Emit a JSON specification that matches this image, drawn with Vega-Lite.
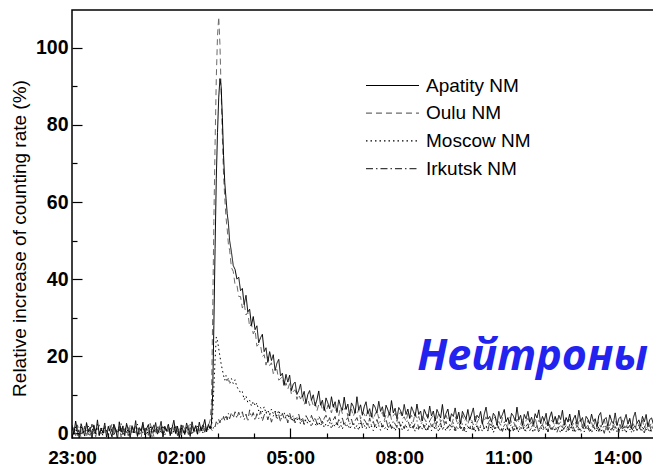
{
  "$schema": "https://vega.github.io/schema/vega-lite/v6.json",
  "width": 582,
  "height": 428,
  "autosize": {"type": "none"},
  "padding": {"left": 72, "top": 10, "right": 0, "bottom": 29},
  "background": "white",
  "config": {
    "view": {"stroke": "black", "strokeWidth": 1.5},
    "axis": {"grid": false, "domain": false, "tickColor": "black", "tickWidth": 1.2, "labelColor": "black", "titleColor": "black", "labelFont": "Liberation Sans", "titleFont": "Liberation Sans"}
  },
  "resolve": {"scale": {"x": "shared", "y": "shared"}, "axis": {"x": "independent", "y": "independent"}},
  "layer": [
    {
      "data": {"values": [
{"t":0,"Apatity":2.1,"Oulu":0.2,"Moscow":1.0,"Irkutsk":-0.3},
{"t":3,"Apatity":-0.3,"Oulu":1.5,"Moscow":0.1,"Irkutsk":1.6},
{"t":6,"Apatity":3.2,"Oulu":-0.6,"Moscow":1.7,"Irkutsk":0.4},
{"t":9,"Apatity":0.6,"Oulu":2.0,"Moscow":-0.5,"Irkutsk":2.2},
{"t":12,"Apatity":-1.2,"Oulu":0.8,"Moscow":0.9,"Irkutsk":-0.4},
{"t":15,"Apatity":2.5,"Oulu":-1.1,"Moscow":2.1,"Irkutsk":1.0},
{"t":18,"Apatity":0.9,"Oulu":1.7,"Moscow":-0.2,"Irkutsk":0.1},
{"t":21,"Apatity":-0.7,"Oulu":0.3,"Moscow":1.3,"Irkutsk":1.9},
{"t":24,"Apatity":2.8,"Oulu":2.4,"Moscow":0.4,"Irkutsk":-0.8},
{"t":27,"Apatity":0.4,"Oulu":-0.4,"Moscow":1.9,"Irkutsk":1.3},
{"t":30,"Apatity":1.6,"Oulu":1.2,"Moscow":-0.8,"Irkutsk":0.5},
{"t":33,"Apatity":-1.4,"Oulu":0.0,"Moscow":0.7,"Irkutsk":2.4},
{"t":36,"Apatity":2.2,"Oulu":1.9,"Moscow":1.5,"Irkutsk":-0.2},
{"t":39,"Apatity":0.0,"Oulu":-0.9,"Moscow":-0.1,"Irkutsk":0.9},
{"t":42,"Apatity":3.5,"Oulu":1.0,"Moscow":2.3,"Irkutsk":1.7},
{"t":45,"Apatity":-0.5,"Oulu":2.2,"Moscow":0.2,"Irkutsk":-0.6},
{"t":48,"Apatity":1.4,"Oulu":-0.2,"Moscow":1.1,"Irkutsk":1.4},
{"t":51,"Apatity":0.2,"Oulu":1.4,"Moscow":-0.6,"Irkutsk":0.0},
{"t":54,"Apatity":2.7,"Oulu":0.5,"Moscow":1.6,"Irkutsk":2.0},
{"t":57,"Apatity":-1.0,"Oulu":-1.3,"Moscow":0.5,"Irkutsk":0.7},
{"t":60,"Apatity":1.8,"Oulu":1.8,"Moscow":-0.3,"Irkutsk":-0.5},
{"t":63,"Apatity":0.5,"Oulu":0.6,"Moscow":2.0,"Irkutsk":1.8},
{"t":66,"Apatity":-0.9,"Oulu":2.5,"Moscow":0.8,"Irkutsk":0.3},
{"t":69,"Apatity":2.4,"Oulu":-0.5,"Moscow":-0.7,"Irkutsk":2.3},
{"t":72,"Apatity":1.1,"Oulu":1.1,"Moscow":1.4,"Irkutsk":-0.1},
{"t":75,"Apatity":-1.5,"Oulu":0.2,"Moscow":0.0,"Irkutsk":1.1},
{"t":78,"Apatity":3.0,"Oulu":1.6,"Moscow":1.8,"Irkutsk":0.6},
{"t":81,"Apatity":0.3,"Oulu":-1.0,"Moscow":-0.4,"Irkutsk":2.6},
{"t":84,"Apatity":1.9,"Oulu":2.1,"Moscow":1.0,"Irkutsk":-0.7},
{"t":87,"Apatity":-0.6,"Oulu":0.4,"Moscow":0.3,"Irkutsk":1.2},
{"t":90,"Apatity":2.6,"Oulu":1.3,"Moscow":2.2,"Irkutsk":0.2},
{"t":93,"Apatity":0.8,"Oulu":-0.7,"Moscow":-0.5,"Irkutsk":1.9},
{"t":96,"Apatity":-1.1,"Oulu":2.3,"Moscow":0.9,"Irkutsk":-0.3},
{"t":99,"Apatity":2.0,"Oulu":0.1,"Moscow":1.5,"Irkutsk":1.5},
{"t":102,"Apatity":0.1,"Oulu":1.5,"Moscow":-0.2,"Irkutsk":0.8},
{"t":105,"Apatity":3.3,"Oulu":-0.4,"Moscow":0.6,"Irkutsk":2.1},
{"t":108,"Apatity":-0.8,"Oulu":1.9,"Moscow":2.4,"Irkutsk":-0.6},
{"t":111,"Apatity":1.5,"Oulu":0.7,"Moscow":-0.6,"Irkutsk":1.0},
{"t":114,"Apatity":0.6,"Oulu":-1.2,"Moscow":1.2,"Irkutsk":0.1},
{"t":117,"Apatity":2.9,"Oulu":2.0,"Moscow":0.1,"Irkutsk":2.5},
{"t":120,"Apatity":-0.4,"Oulu":0.3,"Moscow":1.7,"Irkutsk":0.4},
{"t":123,"Apatity":1.2,"Oulu":1.4,"Moscow":-0.4,"Irkutsk":1.6},
{"t":126,"Apatity":2.3,"Oulu":-0.3,"Moscow":0.8,"Irkutsk":-0.5},
{"t":129,"Apatity":-1.3,"Oulu":2.6,"Moscow":2.0,"Irkutsk":1.3},
{"t":132,"Apatity":1.7,"Oulu":0.9,"Moscow":-0.8,"Irkutsk":0.6},
{"t":135,"Apatity":0.4,"Oulu":-0.8,"Moscow":1.0,"Irkutsk":2.2},
{"t":138,"Apatity":2.8,"Oulu":1.2,"Moscow":0.4,"Irkutsk":-0.2},
{"t":141,"Apatity":-0.2,"Oulu":0.0,"Moscow":1.9,"Irkutsk":1.0},
{"t":144,"Apatity":1.0,"Oulu":2.2,"Moscow":-0.1,"Irkutsk":0.2},
{"t":147,"Apatity":3.1,"Oulu":0.6,"Moscow":0.7,"Irkutsk":1.8},
{"t":150,"Apatity":-0.9,"Oulu":-1.0,"Moscow":2.1,"Irkutsk":-0.4},
{"t":153,"Apatity":1.8,"Oulu":1.8,"Moscow":-0.5,"Irkutsk":1.4},
{"t":156,"Apatity":0.7,"Oulu":0.4,"Moscow":1.3,"Irkutsk":0.5},
{"t":159,"Apatity":2.4,"Oulu":1.3,"Moscow":0.2,"Irkutsk":2.3},
{"t":162,"Apatity":-0.6,"Oulu":-0.5,"Moscow":1.6,"Irkutsk":-0.1},
{"t":165,"Apatity":1.3,"Oulu":2.4,"Moscow":-0.3,"Irkutsk":1.2},
{"t":168,"Apatity":3.4,"Oulu":0.8,"Moscow":0.9,"Irkutsk":0.3},
{"t":171,"Apatity":0.0,"Oulu":-0.2,"Moscow":2.2,"Irkutsk":2.0},
{"t":174,"Apatity":1.9,"Oulu":1.7,"Moscow":0.3,"Irkutsk":-0.6},
{"t":177,"Apatity":-1.2,"Oulu":0.5,"Moscow":-0.6,"Irkutsk":1.5},
{"t":180,"Apatity":2.2,"Oulu":-0.9,"Moscow":1.4,"Irkutsk":0.7},
{"t":183,"Apatity":0.9,"Oulu":2.1,"Moscow":0.6,"Irkutsk":2.4},
{"t":186,"Apatity":-0.3,"Oulu":1.0,"Moscow":-0.2,"Irkutsk":0.0},
{"t":189,"Apatity":2.7,"Oulu":0.0,"Moscow":1.8,"Irkutsk":1.6},
{"t":192,"Apatity":1.1,"Oulu":2.5,"Moscow":0.5,"Irkutsk":-0.3},
{"t":195,"Apatity":-0.8,"Oulu":-0.4,"Moscow":2.3,"Irkutsk":1.1},
{"t":198,"Apatity":3.0,"Oulu":1.4,"Moscow":-0.4,"Irkutsk":2.2},
{"t":201,"Apatity":0.6,"Oulu":0.3,"Moscow":1.0,"Irkutsk":0.4},
{"t":204,"Apatity":2.0,"Oulu":2.2,"Moscow":0.2,"Irkutsk":1.9},
{"t":207,"Apatity":-0.2,"Oulu":0.9,"Moscow":1.9,"Irkutsk":-0.2},
{"t":210,"Apatity":2.9,"Oulu":-0.1,"Moscow":0.6,"Irkutsk":1.3},
{"t":213,"Apatity":0.7,"Oulu":1.8,"Moscow":2.0,"Irkutsk":0.6},
{"t":216,"Apatity":1.6,"Oulu":0.6,"Moscow":0.1,"Irkutsk":2.5},
{"t":219,"Apatity":3.6,"Oulu":2.3,"Moscow":1.5,"Irkutsk":0.3},
{"t":222,"Apatity":0.4,"Oulu":0.8,"Moscow":0.7,"Irkutsk":1.7},
{"t":225,"Apatity":2.3,"Oulu":2.0,"Moscow":2.1,"Irkutsk":0.8},
{"t":228,"Apatity":1.2,"Oulu":3.5,"Moscow":1.0,"Irkutsk":1.9},
{"t":230,"Apatity":2.5,"Oulu":8.0,"Moscow":1.5,"Irkutsk":1.0},
{"t":232,"Apatity":10,"Oulu":30,"Moscow":5,"Irkutsk":0.6},
{"t":234,"Apatity":28,"Oulu":55,"Moscow":12,"Irkutsk":2.1},
{"t":236,"Apatity":48,"Oulu":75,"Moscow":19,"Irkutsk":1.7},
{"t":238,"Apatity":66,"Oulu":92,"Moscow":25,"Irkutsk":3.0},
{"t":240,"Apatity":78,"Oulu":103,"Moscow":24,"Irkutsk":2.2},
{"t":242,"Apatity":87,"Oulu":108,"Moscow":22,"Irkutsk":3.6},
{"t":244,"Apatity":92,"Oulu":101,"Moscow":20,"Irkutsk":2.7},
{"t":246,"Apatity":90,"Oulu":89,"Moscow":18,"Irkutsk":4.0},
{"t":248,"Apatity":82,"Oulu":77,"Moscow":16.5,"Irkutsk":3.2},
{"t":250,"Apatity":72,"Oulu":67,"Moscow":15,"Irkutsk":4.4},
{"t":252,"Apatity":65,"Oulu":61,"Moscow":13.8,"Irkutsk":3.3},
{"t":254,"Apatity":61,"Oulu":56,"Moscow":15.0,"Irkutsk":4.8},
{"t":256,"Apatity":57,"Oulu":53,"Moscow":13.4,"Irkutsk":3.5},
{"t":258,"Apatity":54.5,"Oulu":49,"Moscow":14.4,"Irkutsk":5.2},
{"t":260,"Apatity":50,"Oulu":47.5,"Moscow":12.8,"Irkutsk":3.8},
{"t":263,"Apatity":47,"Oulu":43,"Moscow":14.2,"Irkutsk":5.4},
{"t":266,"Apatity":43.5,"Oulu":42,"Moscow":12.9,"Irkutsk":4.0},
{"t":269,"Apatity":42.5,"Oulu":38.5,"Moscow":13.9,"Irkutsk":5.6},
{"t":272,"Apatity":40,"Oulu":38.5,"Moscow":11.9,"Irkutsk":3.9},
{"t":275,"Apatity":40.5,"Oulu":35.5,"Moscow":11.6,"Irkutsk":5.5},
{"t":278,"Apatity":37,"Oulu":35.5,"Moscow":10.4,"Irkutsk":4.1},
{"t":281,"Apatity":37.6,"Oulu":32.5,"Moscow":10.8,"Irkutsk":5.6},
{"t":284,"Apatity":33.4,"Oulu":33.7,"Moscow":8.7,"Irkutsk":3.5},
{"t":287,"Apatity":35.8,"Oulu":30.7,"Moscow":9.7,"Irkutsk":5.0},
{"t":290,"Apatity":31.5,"Oulu":31.4,"Moscow":8.0,"Irkutsk":3.1},
{"t":293,"Apatity":32.2,"Oulu":27.6,"Moscow":8.6,"Irkutsk":6.1},
{"t":296,"Apatity":28.0,"Oulu":28.4,"Moscow":7.1,"Irkutsk":4.2},
{"t":299,"Apatity":30.3,"Oulu":25.8,"Moscow":8.3,"Irkutsk":5.4},
{"t":302,"Apatity":26.9,"Oulu":26.8,"Moscow":7.1,"Irkutsk":3.3},
{"t":305,"Apatity":27.9,"Oulu":22.6,"Moscow":7.9,"Irkutsk":5.1},
{"t":308,"Apatity":23.5,"Oulu":23.1,"Moscow":5.8,"Irkutsk":3.8},
{"t":311,"Apatity":24.8,"Oulu":22.9,"Moscow":6.7,"Irkutsk":5.8},
{"t":314,"Apatity":25.7,"Oulu":19.9,"Moscow":5.6,"Irkutsk":3.2},
{"t":317,"Apatity":21.2,"Oulu":20.4,"Moscow":6.9,"Irkutsk":4.7},
{"t":320,"Apatity":22.2,"Oulu":17.7,"Moscow":5.2,"Irkutsk":5.6},
{"t":323,"Apatity":18.4,"Oulu":19.9,"Moscow":6.1,"Irkutsk":3.5},
{"t":326,"Apatity":21.2,"Oulu":17.6,"Moscow":4.8,"Irkutsk":5.1},
{"t":329,"Apatity":18.9,"Oulu":18.3,"Moscow":6.3,"Irkutsk":2.9},
{"t":332,"Apatity":20.4,"Oulu":15.5,"Moscow":5.1,"Irkutsk":4.5},
{"t":335,"Apatity":16.3,"Oulu":16.4,"Moscow":5.8,"Irkutsk":5.6},
{"t":338,"Apatity":18.2,"Oulu":16.6,"Moscow":4.5,"Irkutsk":3.5},
{"t":341,"Apatity":19.2,"Oulu":13.8,"Moscow":6.0,"Irkutsk":4.9},
{"t":344,"Apatity":14.9,"Oulu":14.2,"Moscow":4.5,"Irkutsk":3.0},
{"t":347,"Apatity":15.6,"Oulu":14.7,"Moscow":5.0,"Irkutsk":5.2},
{"t":350,"Apatity":12.6,"Oulu":11.8,"Moscow":5.3,"Irkutsk":3.8},
{"t":353,"Apatity":15.3,"Oulu":13.1,"Moscow":3.8,"Irkutsk":4.6},
{"t":356,"Apatity":13.3,"Oulu":11.5,"Moscow":5.1,"Irkutsk":2.7},
{"t":359,"Apatity":15.1,"Oulu":12.9,"Moscow":3.7,"Irkutsk":5.3},
{"t":362,"Apatity":11.1,"Oulu":10.0,"Moscow":4.3,"Irkutsk":3.5},
{"t":365,"Apatity":12.8,"Oulu":10.9,"Moscow":2.9,"Irkutsk":4.7},
{"t":368,"Apatity":13.3,"Oulu":11.3,"Moscow":4.1,"Irkutsk":2.7},
{"t":371,"Apatity":10.1,"Oulu":8.8,"Moscow":3.2,"Irkutsk":4.1},
{"t":374,"Apatity":11.1,"Oulu":10.1,"Moscow":4.3,"Irkutsk":5.0},
{"t":377,"Apatity":12.8,"Oulu":8.9,"Moscow":2.4,"Irkutsk":3.0},
{"t":380,"Apatity":9.4,"Oulu":10.2,"Moscow":3.4,"Irkutsk":4.2},
{"t":383,"Apatity":10.9,"Oulu":7.4,"Moscow":2.4,"Irkutsk":2.3},
{"t":386,"Apatity":7.7,"Oulu":8.9,"Moscow":3.6,"Irkutsk":4.6},
{"t":389,"Apatity":10.1,"Oulu":9.0,"Moscow":2.5,"Irkutsk":3.7},
{"t":392,"Apatity":11.1,"Oulu":7.2,"Moscow":3.2,"Irkutsk":2.7},
{"t":395,"Apatity":8.6,"Oulu":8.7,"Moscow":1.7,"Irkutsk":4.7},
{"t":398,"Apatity":10.0,"Oulu":7.2,"Moscow":3.4,"Irkutsk":3.2},
{"t":401,"Apatity":7.1,"Oulu":8.1,"Moscow":2.5,"Irkutsk":4.2},
{"t":404,"Apatity":8.7,"Oulu":5.8,"Moscow":1.8,"Irkutsk":2.4},
{"t":407,"Apatity":11.0,"Oulu":7.5,"Moscow":3.0,"Irkutsk":4.5},
{"t":410,"Apatity":7.3,"Oulu":8.1,"Moscow":1.9,"Irkutsk":3.6},
{"t":413,"Apatity":8.6,"Oulu":6.1,"Moscow":3.2,"Irkutsk":2.2},
{"t":416,"Apatity":5.9,"Oulu":6.8,"Moscow":1.5,"Irkutsk":3.9},
{"t":419,"Apatity":9.2,"Oulu":5.4,"Moscow":2.5,"Irkutsk":4.7},
{"t":422,"Apatity":7.9,"Oulu":7.3,"Moscow":1.9,"Irkutsk":2.8},
{"t":425,"Apatity":6.4,"Oulu":6.7,"Moscow":2.9,"Irkutsk":4.1},
{"t":428,"Apatity":9.5,"Oulu":5.3,"Moscow":1.2,"Irkutsk":2.4},
{"t":431,"Apatity":6.8,"Oulu":7.6,"Moscow":2.5,"Irkutsk":3.5},
{"t":434,"Apatity":8.2,"Oulu":5.7,"Moscow":1.7,"Irkutsk":4.4},
{"t":437,"Apatity":5.4,"Oulu":6.5,"Moscow":2.9,"Irkutsk":2.0},
{"t":440,"Apatity":8.7,"Oulu":4.6,"Moscow":1.4,"Irkutsk":3.6},
{"t":443,"Apatity":7.0,"Oulu":6.8,"Moscow":2.3,"Irkutsk":2.6},
{"t":446,"Apatity":6.0,"Oulu":5.1,"Moscow":1.1,"Irkutsk":4.0},
{"t":449,"Apatity":9.4,"Oulu":6.2,"Moscow":2.9,"Irkutsk":2.1},
{"t":452,"Apatity":6.2,"Oulu":6.9,"Moscow":1.6,"Irkutsk":3.4},
{"t":455,"Apatity":7.6,"Oulu":4.4,"Moscow":2.4,"Irkutsk":4.1},
{"t":458,"Apatity":4.5,"Oulu":5.6,"Moscow":1.1,"Irkutsk":2.3},
{"t":461,"Apatity":7.9,"Oulu":6.3,"Moscow":2.0,"Irkutsk":3.7},
{"t":464,"Apatity":7.0,"Oulu":4.4,"Moscow":2.5,"Irkutsk":1.8},
{"t":467,"Apatity":5.2,"Oulu":5.7,"Moscow":1.1,"Irkutsk":3.3},
{"t":470,"Apatity":9.5,"Oulu":4.9,"Moscow":2.1,"Irkutsk":4.1},
{"t":473,"Apatity":6.1,"Oulu":6.3,"Moscow":0.8,"Irkutsk":2.4},
{"t":476,"Apatity":7.4,"Oulu":3.7,"Moscow":2.6,"Irkutsk":3.4},
{"t":479,"Apatity":4.7,"Oulu":5.5,"Moscow":1.5,"Irkutsk":1.6},
{"t":482,"Apatity":6.9,"Oulu":5.0,"Moscow":2.2,"Irkutsk":3.6},
{"t":485,"Apatity":8.2,"Oulu":4.0,"Moscow":1.1,"Irkutsk":2.8},
{"t":488,"Apatity":5.1,"Oulu":6.3,"Moscow":2.6,"Irkutsk":1.7},
{"t":491,"Apatity":6.4,"Oulu":4.4,"Moscow":1.3,"Irkutsk":4.0},
{"t":494,"Apatity":4.2,"Oulu":5.5,"Moscow":1.9,"Irkutsk":2.0},
{"t":497,"Apatity":7.6,"Oulu":3.6,"Moscow":0.7,"Irkutsk":3.1},
{"t":500,"Apatity":6.8,"Oulu":5.0,"Moscow":2.2,"Irkutsk":1.5},
{"t":503,"Apatity":5.2,"Oulu":5.9,"Moscow":1.3,"Irkutsk":3.6},
{"t":506,"Apatity":8.3,"Oulu":3.9,"Moscow":2.0,"Irkutsk":2.2},
{"t":509,"Apatity":5.7,"Oulu":4.7,"Moscow":0.8,"Irkutsk":3.3},
{"t":512,"Apatity":6.9,"Oulu":5.5,"Moscow":2.4,"Irkutsk":1.6},
{"t":515,"Apatity":4.3,"Oulu":3.3,"Moscow":1.1,"Irkutsk":2.8},
{"t":518,"Apatity":7.3,"Oulu":4.9,"Moscow":1.7,"Irkutsk":3.7},
{"t":521,"Apatity":6.1,"Oulu":4.1,"Moscow":0.8,"Irkutsk":1.7},
{"t":524,"Apatity":4.7,"Oulu":5.8,"Moscow":2.4,"Irkutsk":3.0},
{"t":527,"Apatity":8.5,"Oulu":3.5,"Moscow":1.2,"Irkutsk":1.3},
{"t":530,"Apatity":5.3,"Oulu":4.6,"Moscow":1.9,"Irkutsk":3.3},
{"t":533,"Apatity":6.5,"Oulu":5.2,"Moscow":0.6,"Irkutsk":2.4},
{"t":536,"Apatity":3.8,"Oulu":3.1,"Moscow":2.1,"Irkutsk":1.5},
{"t":539,"Apatity":6.7,"Oulu":4.8,"Moscow":1.1,"Irkutsk":3.4},
{"t":542,"Apatity":5.9,"Oulu":5.5,"Moscow":2.2,"Irkutsk":1.8},
{"t":545,"Apatity":4.6,"Oulu":3.7,"Moscow":0.8,"Irkutsk":3.0},
{"t":548,"Apatity":7.5,"Oulu":4.3,"Moscow":1.6,"Irkutsk":1.2},
{"t":551,"Apatity":4.9,"Oulu":3.1,"Moscow":2.1,"Irkutsk":2.7},
{"t":554,"Apatity":6.3,"Oulu":5.2,"Moscow":0.7,"Irkutsk":3.5},
{"t":557,"Apatity":3.9,"Oulu":3.9,"Moscow":1.7,"Irkutsk":1.8},
{"t":560,"Apatity":6.9,"Oulu":4.7,"Moscow":1.1,"Irkutsk":3.0},
{"t":563,"Apatity":5.7,"Oulu":3.0,"Moscow":2.3,"Irkutsk":1.3},
{"t":566,"Apatity":4.4,"Oulu":5.4,"Moscow":0.5,"Irkutsk":2.7},
{"t":569,"Apatity":7.6,"Oulu":3.5,"Moscow":1.8,"Irkutsk":3.3},
{"t":572,"Apatity":4.9,"Oulu":4.4,"Moscow":0.9,"Irkutsk":1.2},
{"t":575,"Apatity":5.8,"Oulu":2.7,"Moscow":2.0,"Irkutsk":2.3},
{"t":578,"Apatity":3.2,"Oulu":4.8,"Moscow":1.1,"Irkutsk":3.0},
{"t":581,"Apatity":6.2,"Oulu":3.9,"Moscow":2.1,"Irkutsk":1.4},
{"t":584,"Apatity":5.0,"Oulu":3.0,"Moscow":0.5,"Irkutsk":2.7},
{"t":587,"Apatity":3.9,"Oulu":5.0,"Moscow":1.5,"Irkutsk":0.9},
{"t":590,"Apatity":7.1,"Oulu":3.2,"Moscow":1.8,"Irkutsk":3.3},
{"t":593,"Apatity":4.5,"Oulu":4.1,"Moscow":0.7,"Irkutsk":1.8},
{"t":596,"Apatity":5.8,"Oulu":4.5,"Moscow":2.2,"Irkutsk":2.5},
{"t":599,"Apatity":3.2,"Oulu":2.4,"Moscow":0.9,"Irkutsk":1.1},
{"t":602,"Apatity":6.2,"Oulu":3.9,"Moscow":1.6,"Irkutsk":3.1},
{"t":605,"Apatity":5.1,"Oulu":5.0,"Moscow":0.4,"Irkutsk":1.5},
{"t":608,"Apatity":4.0,"Oulu":2.9,"Moscow":2.0,"Irkutsk":2.7},
{"t":611,"Apatity":7.5,"Oulu":4.0,"Moscow":1.1,"Irkutsk":0.9},
{"t":614,"Apatity":3.7,"Oulu":2.6,"Moscow":1.7,"Irkutsk":2.2},
{"t":617,"Apatity":5.2,"Oulu":4.7,"Moscow":0.6,"Irkutsk":3.1},
{"t":620,"Apatity":6.3,"Oulu":3.3,"Moscow":2.1,"Irkutsk":1.2},
{"t":623,"Apatity":3.2,"Oulu":4.1,"Moscow":0.8,"Irkutsk":2.3},
{"t":626,"Apatity":5.1,"Oulu":2.1,"Moscow":1.5,"Irkutsk":1.6},
{"t":629,"Apatity":4.4,"Oulu":3.8,"Moscow":1.9,"Irkutsk":2.8},
{"t":632,"Apatity":6.6,"Oulu":4.5,"Moscow":0.3,"Irkutsk":0.9},
{"t":635,"Apatity":3.7,"Oulu":2.9,"Moscow":1.6,"Irkutsk":2.2},
{"t":638,"Apatity":5.5,"Oulu":3.6,"Moscow":1.0,"Irkutsk":3.1},
{"t":641,"Apatity":2.4,"Oulu":2.5,"Moscow":2.1,"Irkutsk":1.2},
{"t":644,"Apatity":5.7,"Oulu":4.7,"Moscow":0.6,"Irkutsk":2.5},
{"t":647,"Apatity":4.6,"Oulu":3.1,"Moscow":1.7,"Irkutsk":0.6},
{"t":650,"Apatity":3.8,"Oulu":3.9,"Moscow":0.4,"Irkutsk":2.6},
{"t":653,"Apatity":6.2,"Oulu":2.3,"Moscow":1.3,"Irkutsk":1.7},
{"t":656,"Apatity":3.4,"Oulu":4.2,"Moscow":1.9,"Irkutsk":1.2},
{"t":659,"Apatity":5.0,"Oulu":3.6,"Moscow":0.7,"Irkutsk":2.9},
{"t":662,"Apatity":6.6,"Oulu":2.2,"Moscow":1.6,"Irkutsk":0.9},
{"t":665,"Apatity":3.0,"Oulu":4.5,"Moscow":0.3,"Irkutsk":2.1},
{"t":668,"Apatity":4.7,"Oulu":2.8,"Moscow":2.1,"Irkutsk":2.6},
{"t":671,"Apatity":4.0,"Oulu":3.7,"Moscow":0.9,"Irkutsk":0.6},
{"t":674,"Apatity":5.7,"Oulu":4.2,"Moscow":1.7,"Irkutsk":2.1},
{"t":677,"Apatity":2.5,"Oulu":2.3,"Moscow":0.5,"Irkutsk":2.7},
{"t":680,"Apatity":5.0,"Oulu":3.3,"Moscow":1.4,"Irkutsk":1.2},
{"t":683,"Apatity":6.8,"Oulu":4.3,"Moscow":2.0,"Irkutsk":1.9},
{"t":686,"Apatity":3.7,"Oulu":2.4,"Moscow":0.6,"Irkutsk":0.7},
{"t":689,"Apatity":4.4,"Oulu":3.5,"Moscow":1.3,"Irkutsk":2.9},
{"t":692,"Apatity":2.9,"Oulu":1.9,"Moscow":1.8,"Irkutsk":1.4},
{"t":695,"Apatity":5.2,"Oulu":3.8,"Moscow":0.2,"Irkutsk":2.1},
{"t":698,"Apatity":4.5,"Oulu":4.3,"Moscow":1.5,"Irkutsk":0.8},
{"t":701,"Apatity":2.1,"Oulu":2.5,"Moscow":1.1,"Irkutsk":2.5},
{"t":704,"Apatity":5.7,"Oulu":3.1,"Moscow":1.8,"Irkutsk":1.2},
{"t":707,"Apatity":3.8,"Oulu":2.0,"Moscow":0.4,"Irkutsk":2.3},
{"t":710,"Apatity":4.9,"Oulu":4.1,"Moscow":1.4,"Irkutsk":0.5},
{"t":713,"Apatity":6.2,"Oulu":2.7,"Moscow":2.0,"Irkutsk":2.0},
{"t":716,"Apatity":3.0,"Oulu":3.5,"Moscow":0.6,"Irkutsk":2.7},
{"t":719,"Apatity":4.1,"Oulu":2.1,"Moscow":1.6,"Irkutsk":0.9},
{"t":722,"Apatity":2.4,"Oulu":4.4,"Moscow":0.2,"Irkutsk":1.7},
{"t":725,"Apatity":5.2,"Oulu":2.8,"Moscow":1.3,"Irkutsk":2.3},
{"t":728,"Apatity":4.5,"Oulu":3.3,"Moscow":1.9,"Irkutsk":0.6},
{"t":731,"Apatity":3.2,"Oulu":1.7,"Moscow":0.7,"Irkutsk":2.7},
{"t":734,"Apatity":6.8,"Oulu":3.7,"Moscow":1.5,"Irkutsk":1.0},
{"t":737,"Apatity":3.5,"Oulu":3.0,"Moscow":0.3,"Irkutsk":2.0},
{"t":740,"Apatity":4.7,"Oulu":2.2,"Moscow":1.8,"Irkutsk":1.4},
{"t":743,"Apatity":2.2,"Oulu":4.0,"Moscow":0.9,"Irkutsk":2.4},
{"t":746,"Apatity":4.9,"Oulu":1.9,"Moscow":1.6,"Irkutsk":0.5},
{"t":749,"Apatity":3.8,"Oulu":3.3,"Moscow":0.5,"Irkutsk":1.9},
{"t":752,"Apatity":5.7,"Oulu":3.9,"Moscow":2.0,"Irkutsk":2.5},
{"t":755,"Apatity":2.9,"Oulu":2.3,"Moscow":0.8,"Irkutsk":0.7},
{"t":758,"Apatity":4.2,"Oulu":3.0,"Moscow":1.4,"Irkutsk":1.6},
{"t":761,"Apatity":2.4,"Oulu":1.6,"Moscow":0.2,"Irkutsk":2.5},
{"t":764,"Apatity":5.1,"Oulu":4.0,"Moscow":1.7,"Irkutsk":0.8},
{"t":767,"Apatity":4.0,"Oulu":2.1,"Moscow":1.2,"Irkutsk":2.1},
{"t":770,"Apatity":6.1,"Oulu":3.4,"Moscow":0.4,"Irkutsk":0.3},
{"t":773,"Apatity":2.6,"Oulu":2.7,"Moscow":1.9,"Irkutsk":1.7},
{"t":776,"Apatity":4.4,"Oulu":1.9,"Moscow":0.7,"Irkutsk":2.3},
{"t":779,"Apatity":3.3,"Oulu":4.0,"Moscow":1.5,"Irkutsk":1.0},
{"t":782,"Apatity":5.2,"Oulu":2.3,"Moscow":1.1,"Irkutsk":1.9},
{"t":785,"Apatity":1.9,"Oulu":3.2,"Moscow":0.3,"Irkutsk":0.4},
{"t":788,"Apatity":4.2,"Oulu":1.6,"Moscow":2.0,"Irkutsk":2.4},
{"t":791,"Apatity":5.6,"Oulu":3.4,"Moscow":0.6,"Irkutsk":1.1},
{"t":794,"Apatity":2.9,"Oulu":2.8,"Moscow":1.6,"Irkutsk":1.7},
{"t":797,"Apatity":4.4,"Oulu":1.9,"Moscow":0.5,"Irkutsk":2.1},
{"t":800,"Apatity":2.4,"Oulu":3.9,"Moscow":1.8,"Irkutsk":0.3},
{"t":803,"Apatity":4.7,"Oulu":2.3,"Moscow":1.3,"Irkutsk":1.6},
{"t":806,"Apatity":3.6,"Oulu":3.0,"Moscow":0.1,"Irkutsk":2.3},
{"t":809,"Apatity":6.0,"Oulu":1.4,"Moscow":1.5,"Irkutsk":0.7},
{"t":812,"Apatity":2.1,"Oulu":3.5,"Moscow":1.2,"Irkutsk":1.4},
{"t":815,"Apatity":4.1,"Oulu":2.0,"Moscow":0.4,"Irkutsk":2.0},
{"t":818,"Apatity":3.0,"Oulu":2.9,"Moscow":1.9,"Irkutsk":0.4},
{"t":821,"Apatity":5.0,"Oulu":3.7,"Moscow":0.8,"Irkutsk":2.4},
{"t":824,"Apatity":2.2,"Oulu":1.7,"Moscow":1.7,"Irkutsk":0.9},
{"t":827,"Apatity":3.7,"Oulu":2.5,"Moscow":0.2,"Irkutsk":1.7},
{"t":830,"Apatity":4.7,"Oulu":3.3,"Moscow":1.4,"Irkutsk":0.1},
{"t":833,"Apatity":2.4,"Oulu":1.2,"Moscow":1.9,"Irkutsk":2.0},
{"t":836,"Apatity":6.0,"Oulu":3.0,"Moscow":0.5,"Irkutsk":1.4},
{"t":839,"Apatity":3.1,"Oulu":3.8,"Moscow":1.2,"Irkutsk":0.3},
{"t":842,"Apatity":4.1,"Oulu":1.8,"Moscow":1.7,"Irkutsk":2.3},
{"t":845,"Apatity":1.8,"Oulu":2.7,"Moscow":0.4,"Irkutsk":0.8},
{"t":848,"Apatity":4.4,"Oulu":1.5,"Moscow":2.0,"Irkutsk":1.7},
{"t":851,"Apatity":3.7,"Oulu":3.4,"Moscow":0.7,"Irkutsk":2.1},
{"t":854,"Apatity":2.5,"Oulu":2.3,"Moscow":1.5,"Irkutsk":0.2},
{"t":857,"Apatity":5.0,"Oulu":2.9,"Moscow":0.1,"Irkutsk":1.5},
{"t":860,"Apatity":3.1,"Oulu":1.3,"Moscow":1.6,"Irkutsk":2.2},
{"t":863,"Apatity":3.8,"Oulu":3.5,"Moscow":1.1,"Irkutsk":0.7},
{"t":866,"Apatity":1.6,"Oulu":1.9,"Moscow":0.6,"Irkutsk":1.8},
{"t":869,"Apatity":4.6,"Oulu":3.1,"Moscow":1.8,"Irkutsk":0.5},
{"t":872,"Apatity":5.4,"Oulu":1.6,"Moscow":0.3,"Irkutsk":2.0},
{"t":875,"Apatity":2.3,"Oulu":2.5,"Moscow":1.3,"Irkutsk":1.3},
{"t":878,"Apatity":3.6,"Oulu":3.7,"Moscow":1.9,"Irkutsk":0.0},
{"t":881,"Apatity":4.1,"Oulu":1.2,"Moscow":0.9,"Irkutsk":2.2},
{"t":884,"Apatity":1.8,"Oulu":2.8,"Moscow":1.6,"Irkutsk":0.8},
{"t":887,"Apatity":4.8,"Oulu":2.0,"Moscow":0.2,"Irkutsk":1.7},
{"t":890,"Apatity":3.3,"Oulu":3.2,"Moscow":1.4,"Irkutsk":0.5},
{"t":893,"Apatity":2.5,"Oulu":1.6,"Moscow":0.8,"Irkutsk":2.0},
{"t":896,"Apatity":5.3,"Oulu":3.3,"Moscow":1.8,"Irkutsk":0.9},
{"t":899,"Apatity":2.1,"Oulu":2.0,"Moscow":0.4,"Irkutsk":1.6},
{"t":902,"Apatity":3.8,"Oulu":2.8,"Moscow":1.5,"Irkutsk":0.2},
{"t":905,"Apatity":4.3,"Oulu":1.2,"Moscow":2.0,"Irkutsk":2.3},
{"t":908,"Apatity":1.6,"Oulu":3.5,"Moscow":0.6,"Irkutsk":1.1},
{"t":911,"Apatity":3.4,"Oulu":2.2,"Moscow":1.2,"Irkutsk":1.8},
{"t":914,"Apatity":4.9,"Oulu":1.4,"Moscow":0.1,"Irkutsk":0.4},
{"t":917,"Apatity":2.4,"Oulu":2.9,"Moscow":1.7,"Irkutsk":1.4},
{"t":920,"Apatity":3.9,"Oulu":3.6,"Moscow":0.9,"Irkutsk":2.1},
{"t":923,"Apatity":1.2,"Oulu":1.7,"Moscow":1.5,"Irkutsk":0.3},
{"t":926,"Apatity":4.1,"Oulu":2.5,"Moscow":0.3,"Irkutsk":1.5},
{"t":929,"Apatity":5.5,"Oulu":1.0,"Moscow":1.9,"Irkutsk":1.9},
{"t":932,"Apatity":2.6,"Oulu":3.1,"Moscow":0.7,"Irkutsk":0.6},
{"t":935,"Apatity":3.5,"Oulu":2.4,"Moscow":1.3,"Irkutsk":2.2},
{"t":938,"Apatity":1.9,"Oulu":1.6,"Moscow":1.6,"Irkutsk":0.8},
{"t":941,"Apatity":4.4,"Oulu":3.4,"Moscow":0.5,"Irkutsk":1.6},
{"t":944,"Apatity":3.0,"Oulu":1.3,"Moscow":2.0,"Irkutsk":0.1},
{"t":947,"Apatity":4.9,"Oulu":2.6,"Moscow":0.8,"Irkutsk":1.8},
{"t":950,"Apatity":1.7,"Oulu":3.2,"Moscow":1.4,"Irkutsk":1.2},
{"t":953,"Apatity":3.6,"Oulu":1.9,"Moscow":0.2,"Irkutsk":2.0},
{"t":956,"Apatity":4.0,"Oulu":2.7,"Moscow":1.7,"Irkutsk":0.5},
{"t":959,"Apatity":2.4,"Oulu":1.5,"Moscow":1.1,"Irkutsk":1.7}
      ]},
      "transform": [{"fold": ["Irkutsk", "Moscow", "Oulu", "Apatity"], "as": ["station", "value"]}],
      "mark": {"type": "line", "strokeWidth": 1, "clip": true},
      "encoding": {
        "x": {
          "field": "t", "type": "quantitative",
          "scale": {"domain": [0, 960], "nice": false, "zero": false},
          "axis": {
            "title": null, "values": [0, 180, 360, 540, 720, 900],
            "labelExpr": "pad(toString((23 + datum.value / 60) % 24), 2, '0', 'left') + ':00'",
            "tickSize": -10, "labelPadding": 20, "labelFontSize": 19, "labelFontWeight": "bold", "labelFlush": false
          }
        },
        "y": {
          "field": "value", "type": "quantitative",
          "scale": {"domain": [-1.2, 109.8], "nice": false, "zero": false},
          "axis": {
            "title": "Relative increase of counting rate (%)", "values": [0, 20, 40, 60, 80, 100],
            "tickSize": -10, "labelPadding": 14, "labelFontSize": 19.5, "labelFontWeight": "bold",
            "titleFontSize": 19, "titleFontWeight": "normal", "titlePadding": 6, "titleY": 228
          }
        },
        "color": {
          "field": "station", "type": "nominal",
          "scale": {"domain": ["Apatity", "Oulu", "Moscow", "Irkutsk"], "range": ["#000000", "#6a6a6a", "#000000", "#3c3c3c"]},
          "legend": {
            "orient": "none", "legendX": 309, "legendY": 64, "title": null, "padding": 0,
            "symbolType": "M-2.5,0H2.5", "symbolSize": 450, "symbolStrokeWidth": 1.2,
            "labelFont": "Liberation Sans", "labelFontSize": 19, "labelColor": "black", "labelOffset": 22, "rowPadding": 5.7,
            "labelExpr": "datum.label + ' NM'"
          }
        },
        "strokeDash": {
          "field": "station", "type": "nominal",
          "scale": {"domain": ["Apatity", "Oulu", "Moscow", "Irkutsk"], "range": [[1, 0], [6, 4], [1.5, 3], [7, 3, 1.5, 3]]},
          "legend": {
            "orient": "none", "legendX": 309, "legendY": 64, "title": null, "padding": 0,
            "symbolType": "M-2.5,0H2.5", "symbolSize": 450, "symbolStrokeWidth": 1.2,
            "labelFont": "Liberation Sans", "labelFontSize": 19, "labelColor": "black", "labelOffset": 22, "rowPadding": 5.7,
            "labelExpr": "datum.label + ' NM'"
          }
        }
      }
    },
    {
      "data": {"values": [{"t": 950, "v": 16.4, "label": "Нейтроны"}]},
      "mark": {"type": "text", "align": "right", "baseline": "alphabetic", "font": "Open Sans", "fontSize": 43, "fontWeight": "bold", "fontStyle": "italic", "color": "#2323f0"},
      "encoding": {
        "x": {
          "field": "t", "type": "quantitative",
          "scale": {"domain": [0, 960], "nice": false, "zero": false},
          "axis": {"orient": "bottom", "title": null, "labels": false, "values": [60, 120, 240, 300, 420, 480, 600, 660, 780, 840], "tickSize": -5}
        },
        "y": {
          "field": "v", "type": "quantitative",
          "scale": {"domain": [-1.2, 109.8], "nice": false, "zero": false},
          "axis": {"orient": "left", "title": null, "labels": false, "values": [10, 30, 50, 70, 90], "tickSize": -5}
        },
        "text": {"field": "label"}
      }
    }
  ]
}
